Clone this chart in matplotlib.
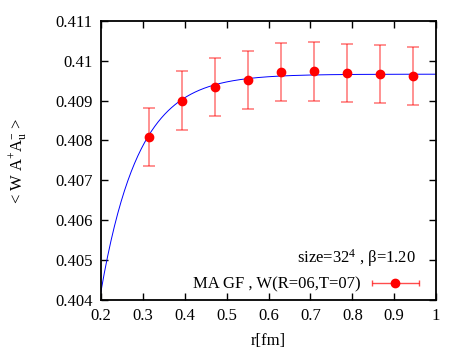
import numpy as np
import matplotlib
matplotlib.use("Agg")
import matplotlib.pyplot as plt
from matplotlib.ticker import FormatStrFormatter
from matplotlib.container import ErrorbarContainer
from matplotlib.legend_handler import HandlerErrorbar

plt.rcParams['font.family'] = ['Liberation Serif', 'DejaVu Serif']
plt.rcParams['mathtext.fontset'] = 'custom'
plt.rcParams['mathtext.rm'] = 'Liberation Serif'
plt.rcParams['mathtext.it'] = 'Liberation Serif'

# data points
r = [0.315, 0.394, 0.472, 0.551, 0.630, 0.709, 0.788, 0.866, 0.945]
w = [0.40808, 0.40900, 0.40933, 0.40951, 0.40971, 0.40973, 0.40969, 0.40966, 0.40961]
err = [0.00073, 0.00073, 0.00073, 0.00073, 0.00073, 0.00073, 0.00073, 0.00073, 0.00073]

# fit: A - B*exp(-r/c)
fit_A = 0.40966
fit_B = 0.0503
fit_c = 0.09

xticks = [0.2, 0.3, 0.4, 0.5, 0.6, 0.7, 0.8, 0.9, 1.0]
yticks = [0.404, 0.405, 0.406, 0.407, 0.408, 0.409, 0.41, 0.411]

fs = 12

fig = plt.figure(figsize=(4.63, 3.54), dpi=100)
ax = fig.add_axes([0.218, 0.1525, 0.724, 0.789])

rr = np.linspace(0.2, 1.0, 400)
ax.plot(rr, fit_A - fit_B * np.exp(-rr / fit_c), color='blue', lw=0.7)

ax.errorbar(r, w, yerr=err, fmt='o', color='red', ms=6, ecolor=(1, 0, 0, 0.5),
            elinewidth=1.2, capsize=4, capthick=1.2)

# legend sample drawn like gnuplot's: horizontal bar with a dot
proxy = ax.errorbar([np.nan], [np.nan], xerr=[1], fmt='o', color='red', ms=6,
                    ecolor=(1, 0, 0, 0.7), elinewidth=1.0, capsize=2, capthick=1.0)

ax.set_xlim(0.2, 1.0)
ax.set_ylim(0.404, 0.411)
ax.set_xticks(xticks)
ax.set_yticks(yticks)
ax.xaxis.set_major_formatter(FormatStrFormatter('%g'))
ax.yaxis.set_major_formatter(FormatStrFormatter('%g'))
ax.tick_params(direction='in', top=True, right=True, length=5, width=1,
               labelsize=fs, pad=6)
for s in ax.spines.values():
    s.set_linewidth(1.3)

ax.set_xlabel('r[fm]', fontsize=fs, labelpad=6)
ax.set_ylabel(r'< W A$^{+}$A$^{-}_{u}$ >', fontsize=fs, labelpad=19)

ax.text(0.941, 0.152, r'size=32$^{4}$ , β=1.20', transform=ax.transAxes,
        ha='right', va='center', fontsize=fs)
ax.legend([proxy], ['MA GF , W(R=06,T=07)'], loc='lower right', frameon=False,
          markerfirst=False, fontsize=fs, handlelength=2.9, handletextpad=0.6,
          borderaxespad=0.3, bbox_to_anchor=(0.985, -0.015),
          handler_map={ErrorbarContainer: HandlerErrorbar(xerr_size=1.4)})

fig.savefig('out.png', dpi=100)
